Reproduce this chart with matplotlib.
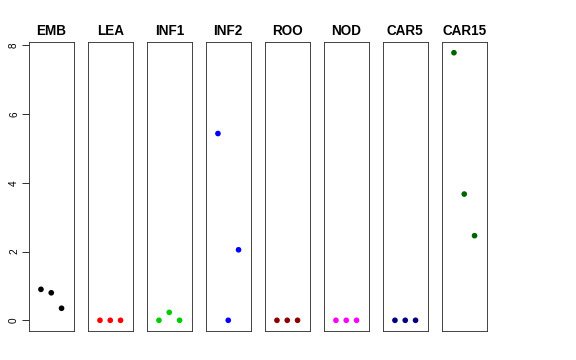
import matplotlib
matplotlib.use("Agg")
import matplotlib.pyplot as plt

plt.rcParams['font.family'] = ['Liberation Sans', 'DejaVu Sans']

panels = ["EMB", "LEA", "INF1", "INF2", "ROO", "NOD", "CAR5", "CAR15"]
colors = ["#000000", "#FF0000", "#00CD00", "#0000FF", "#8B0000", "#FF00FF", "#000080", "#006400"]
x_pos = [1, 2, 3]
values = [
    [0.90, 0.80, 0.35],
    [0.0, 0.0, 0.0],
    [0.0, 0.23, 0.0],
    [5.43, 0.0, 2.05],
    [0.0, 0.0, 0.0],
    [0.0, 0.0, 0.0],
    [0.0, 0.0, 0.0],
    [7.78, 3.67, 2.46],
]
yticks = [0, 2, 4, 6, 8]

W, H = 576, 360
fig = plt.figure(figsize=(W / 72, H / 72), dpi=72)
ymax = max(max(v) for v in values)
ypad = ymax * 0.04
lefts = [29, 88, 147, 206, 265, 324, 383, 442]
width = 44.5
top, bottom = 42, 331
for i, (name, col, vals) in enumerate(zip(panels, colors, values)):
    ax = fig.add_axes([lefts[i] / W, (H - bottom) / H, width / W, (bottom - top) / H])
    ax.scatter(x_pos, vals, s=32, color=col, edgecolors='none', zorder=3)
    ax.set_xlim(-0.16, 4.16)
    ax.set_ylim(-ypad, ymax + ypad)
    ax.set_xticks([])
    for s in ax.spines.values():
        s.set_linewidth(0.9)
        s.set_color('#333333')
    ax.set_title(name, fontsize=13.5, fontweight='bold', pad=7)
    if i == 0:
        ax.set_yticks(yticks)
        ax.set_yticklabels([str(t) for t in yticks], rotation=90, va='center', fontsize=10)
        ax.tick_params(axis='y', length=7, width=0.8, pad=3)
    else:
        ax.set_yticks([])

fig.savefig("out.png", dpi=72)
